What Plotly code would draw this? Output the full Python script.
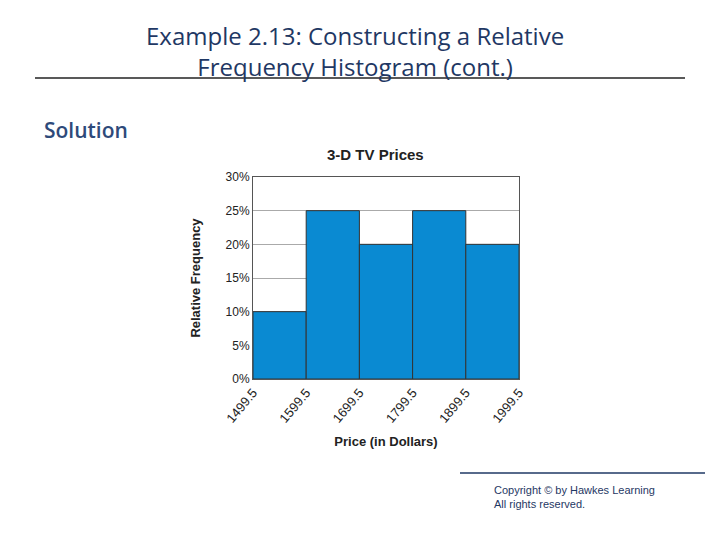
import plotly.graph_objects as go

bin_edges = [1499.5, 1599.5, 1699.5, 1799.5, 1899.5, 1999.5]
rel_freq = [0.10, 0.25, 0.20, 0.25, 0.20]
y_ticks = [0, 0.05, 0.10, 0.15, 0.20, 0.25, 0.30]

mids = [(a + b) / 2 for a, b in zip(bin_edges[:-1], bin_edges[1:])]

# plot area in page pixels (page body has an 8px margin)
OFF = 8
L, R, T, B = 253 - OFF, 519 - OFF, 177 - OFF, 379 - OFF


def px(x):
    return (x - OFF - L) / (R - L)


def py(y):
    return (B - (y - OFF)) / (B - T)


fig = go.Figure(go.Bar(
    x=mids, y=rel_freq, width=100,
    marker=dict(color="#0a8ad2", line=dict(color="#333", width=1)),
    showlegend=False,
))

fig.update_layout(
    width=720, height=540,
    margin=dict(l=L, r=720 - R, t=T, b=540 - B, pad=0),
    paper_bgcolor="white", plot_bgcolor="white",
    font=dict(family="Liberation Sans, Arial", color="#222"),
    xaxis=dict(
        range=[1499.5, 1999.5], automargin=False,
        tickvals=bin_edges, ticktext=[f"{v:.1f}" for v in bin_edges],
        tickangle=-50, tickfont=dict(size=13), showgrid=False,
        showline=True, linecolor="#555", mirror=True, ticks="",
        title=dict(text="<b>Price (in Dollars)</b>", font=dict(size=13), standoff=12),
    ),
    yaxis=dict(
        range=[0, 0.30], automargin=False,
        tickvals=y_ticks, tickformat=".0%", tickfont=dict(size=12),
        showgrid=True, gridcolor="#aaa", showline=True, linecolor="#555",
        mirror=True, ticks="",
        title=dict(text="<b>Relative Frequency</b>", font=dict(size=13), standoff=22),
    ),
    shapes=[
        dict(type="line", xref="paper", yref="paper", x0=px(35), x1=px(685),
             y0=py(78), y1=py(78), line=dict(color="#222", width=1.5)),
        dict(type="line", xref="paper", yref="paper", x0=px(460), x1=px(705),
             y0=py(473), y1=py(473), line=dict(color="#1f3864", width=1.5)),
    ],
    annotations=[
        dict(text="Example 2.13: Constructing a Relative<br>Frequency Histogram (cont.)",
             x=px(355), y=py(17), xref="paper", yref="paper", showarrow=False,
             xanchor="center", yanchor="top",
             font=dict(family="Open Sans", size=24, color="#1f3864")),
        dict(text="Solution", x=px(42), y=py(130), xref="paper", yref="paper",
             showarrow=False, xanchor="left", yanchor="middle",
             font=dict(family="Open Sans", size=21, color="#2e4a7a", weight=600)),
        dict(text="<b>3-D TV Prices</b>", x=px(375), y=py(155), xref="paper",
             yref="paper", showarrow=False, xanchor="center", yanchor="middle",
             font=dict(size=15, color="#222")),
        dict(text="Copyright © by Hawkes Learning<br>All rights reserved.",
             x=px(492), y=py(497), xref="paper", yref="paper", showarrow=False,
             xanchor="left", yanchor="middle", align="left",
             font=dict(size=11, color="#1f3864")),
    ],
)

fig.write_html("out.html")
